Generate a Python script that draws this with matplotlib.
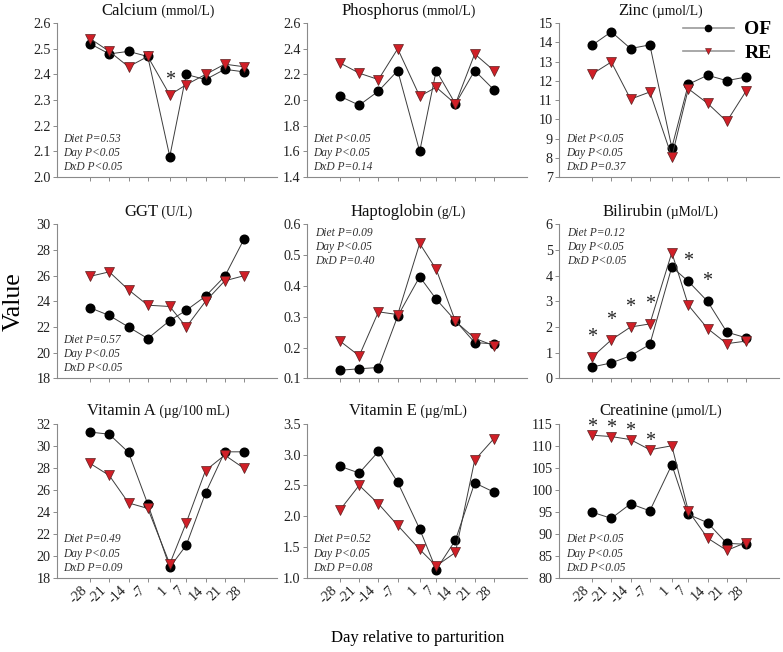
import matplotlib
matplotlib.use("Agg")
import matplotlib.pyplot as plt
from matplotlib.lines import Line2D
from matplotlib.offsetbox import TextArea, HPacker, AnchoredOffsetbox

plt.rcParams["font.family"] = ["Liberation Serif", "DejaVu Serif"]

# Sampling days relative to parturition
days = [-28, -21, -14, -7, 1, 7, 14, 21, 28]
day_labels = ["-28", "-21", "-14", "-7", "1", "7", "14", "21", "28"]

# Values (OF and RE diets)
calcium_of = [2.52, 2.48, 2.49, 2.47, 2.08, 2.40, 2.38, 2.42, 2.41]
calcium_re = [2.54, 2.49, 2.43, 2.47, 2.32, 2.36, 2.40, 2.44, 2.43]

phosphorus_of = [2.03, 1.96, 2.07, 2.23, 1.60, 2.23, 1.97, 2.23, 2.08]
phosphorus_re = [2.29, 2.21, 2.16, 2.40, 2.03, 2.10, 1.97, 2.36, 2.23]

zinc_of = [13.85, 14.55, 13.68, 13.87, 8.53, 11.82, 12.29, 12.01, 12.20]
zinc_re = [12.35, 12.98, 11.05, 11.42, 8.05, 11.59, 10.83, 9.89, 11.47]

ggt_of = [23.5, 22.9, 22.0, 21.1, 22.5, 23.3, 24.4, 25.95, 28.85]
ggt_re = [25.95, 26.3, 24.9, 23.7, 23.6, 22.0, 24.0, 25.6, 26.0]

hapto_of = [0.126, 0.131, 0.135, 0.302, 0.430, 0.357, 0.287, 0.216, 0.212]
hapto_re = [0.221, 0.173, 0.316, 0.307, 0.538, 0.454, 0.285, 0.230, 0.206]

bili_of = [0.44, 0.60, 0.88, 1.32, 4.34, 3.78, 3.00, 1.80, 1.58]
bili_re = [0.82, 1.50, 2.00, 2.12, 4.90, 2.85, 1.94, 1.35, 1.45]

vita_of = [31.25, 31.05, 29.4, 24.7, 18.95, 20.95, 25.7, 29.45, 29.45]
vita_re = [28.4, 27.3, 24.8, 24.3, 19.25, 23.0, 27.75, 29.15, 27.95]

vite_of = [2.81, 2.70, 3.05, 2.55, 1.79, 1.13, 1.61, 2.54, 2.39]
vite_re = [2.10, 2.50, 2.20, 1.85, 1.46, 1.19, 1.41, 2.91, 3.26]

creat_of = [94.9, 93.5, 96.8, 95.2, 105.7, 94.4, 92.5, 87.8, 87.6]
creat_re = [112.4, 112.1, 111.4, 109.1, 110.0, 95.2, 89.0, 86.2, 88.0]

# name, unit, OF, RE, y limits, y step, tick format, stats text, stats at top, asterisks, asterisk offset
panels = [
    ("Calcium", "(mmol/L)", calcium_of, calcium_re, (2.0, 2.6), 0.1, "{:.1f}",
     ["Diet P=0.53", "Day P<0.05", "DxD P<0.05"], False, {"RE": [1]}, 7.5),
    ("Phosphorus", "(mmol/L)", phosphorus_of, phosphorus_re, (1.4, 2.6), 0.2, "{:.1f}",
     ["Diet P<0.05", "Day P<0.05", "DxD P=0.14"], False, {}, 0),
    ("Zinc", "(\u00b5mol/L)", zinc_of, zinc_re, (7, 15), 1, "{:.0f}",
     ["Diet P<0.05", "Day P<0.05", "DxD P=0.37"], False, {}, 0),
    ("GGT", "(U/L)", ggt_of, ggt_re, (18, 30), 2, "{:.0f}",
     ["Diet P=0.57", "Day P<0.05", "DxD P<0.05"], False, {}, 0),
    ("Haptoglobin", "(g/L)", hapto_of, hapto_re, (0.1, 0.6), 0.1, "{:.1f}",
     ["Diet P=0.09", "Day P<0.05", "DxD P=0.40"], True, {}, 0),
    ("Bilirubin", "(\u00b5Mol/L)", bili_of, bili_re, (0, 6), 1, "{:.0f}",
     ["Diet P=0.12", "Day P<0.05", "DxD P<0.05"], True,
     {"RE": [-28, -21, -14, -7], "OF": [7, 14]}, 11),
    ("Vitamin A", "(\u00b5g/100 mL)", vita_of, vita_re, (18, 32), 2, "{:.0f}",
     ["Diet P=0.49", "Day P<0.05", "DxD P=0.09"], False, {}, 0),
    ("Vitamin E", "(\u00b5g/mL)", vite_of, vite_re, (1.0, 3.5), 0.5, "{:.1f}",
     ["Diet P=0.52", "Day P<0.05", "DxD P=0.08"], False, {}, 0),
    ("Creatinine", "(\u00b5mol/L)", creat_of, creat_re, (80, 115), 5, "{:.0f}",
     ["Diet P<0.05", "Day P<0.05", "DxD P<0.05"], False, {"RE": [-28, -21, -14, -7]}, 2.5),
]

line_col = "#3c3c3c"
red = "#d01f27"
axis_col = "#8a8a8a"

fig = plt.figure(figsize=(7.83, 6.52), dpi=100)
lefts = [0.0728, 0.392, 0.714]
bottoms = [0.7285, 0.4198, 0.114]
w, h = 0.281, 0.236

for i, (name, unit, of, re_, ylim, step, fmt, stats, top, stars, star_off) in enumerate(panels):
    r, c = divmod(i, 3)
    ax = fig.add_axes([lefts[c], bottoms[r], w, h])

    ax.plot(days, of, color=line_col, lw=0.7, marker="o", ms=6.2,
            mfc="black", mec="black", zorder=3)
    ax.plot(days, re_, color=line_col, lw=0.7, marker="v", ms=6.8,
            mfc=red, mec="#5a2020", mew=0.5, zorder=4)

    for series, star_days in stars.items():
        vals = of if series == "OF" else re_
        for d in star_days:
            ax.annotate("*", (d, vals[days.index(d)]), xytext=(0, star_off),
                        textcoords="offset points", ha="center", va="baseline",
                        fontsize=14.5, color="#222222", annotation_clip=False)

    ax.set_xlim(-40, 40)
    ax.set_ylim(*ylim)
    n = int(round((ylim[1] - ylim[0]) / step))
    yt = [ylim[0] + k * step for k in range(n + 1)]
    ax.set_yticks(yt)
    ax.set_yticklabels([fmt.format(v) for v in yt])
    ax.set_xticks(days)
    if r == 2:
        ax.set_xticklabels(day_labels, rotation=45, ha="right")
    else:
        ax.set_xticklabels([])

    for s in ["top", "right"]:
        ax.spines[s].set_visible(False)
    for s in ["left", "bottom"]:
        ax.spines[s].set_color(axis_col)
        ax.spines[s].set_linewidth(0.8)
    ax.tick_params(direction="out", length=3, width=0.7, color=axis_col,
                   labelsize=10.2, labelcolor="#222222", pad=1.5)

    title = HPacker(children=[TextArea(name, textprops=dict(fontsize=12, color="#111111")),
                              TextArea(" " + unit, textprops=dict(fontsize=9.8, color="#111111"))],
                    align="baseline", pad=0, sep=0)
    ax.add_artist(AnchoredOffsetbox(loc="lower center", child=title, pad=0, borderpad=0,
                                    frameon=False, bbox_to_anchor=(0.46, 1.03),
                                    bbox_transform=ax.transAxes))

    if top:
        ax.text(0.035, 0.985, "\n".join(stats), transform=ax.transAxes, ha="left", va="top",
                fontsize=8.3, style="italic", color="#333333", linespacing=1.25)
    else:
        ax.text(0.03, 0.025, "\n".join(stats), transform=ax.transAxes, ha="left", va="bottom",
                fontsize=8.3, style="italic", color="#333333", linespacing=1.25)

    if name == "Zinc":
        handles = [Line2D([], [], color="#9a9a9a", lw=1.2, marker="o", ms=4.5,
                          mfc="black", mec="black"),
                   Line2D([], [], color="#9a9a9a", lw=1.2, marker="v", ms=5,
                          mfc=red, mec="#5a2020", mew=0.4)]
        ax.legend(handles, ["OF", "RE"], loc="upper right", bbox_to_anchor=(0.965, 1.015),
                  frameon=False, borderpad=0, borderaxespad=0, handlelength=2.6,
                  handletextpad=0.55, labelspacing=0.3,
                  prop={"weight": "bold", "size": 14})

fig.text(0.018, 0.537, "Value", rotation=90, fontsize=18.5, ha="center", va="center")
fig.text(0.534, 0.021, "Day relative to parturition", fontsize=12, ha="center", va="center")

fig.savefig("out.png", dpi=100)
